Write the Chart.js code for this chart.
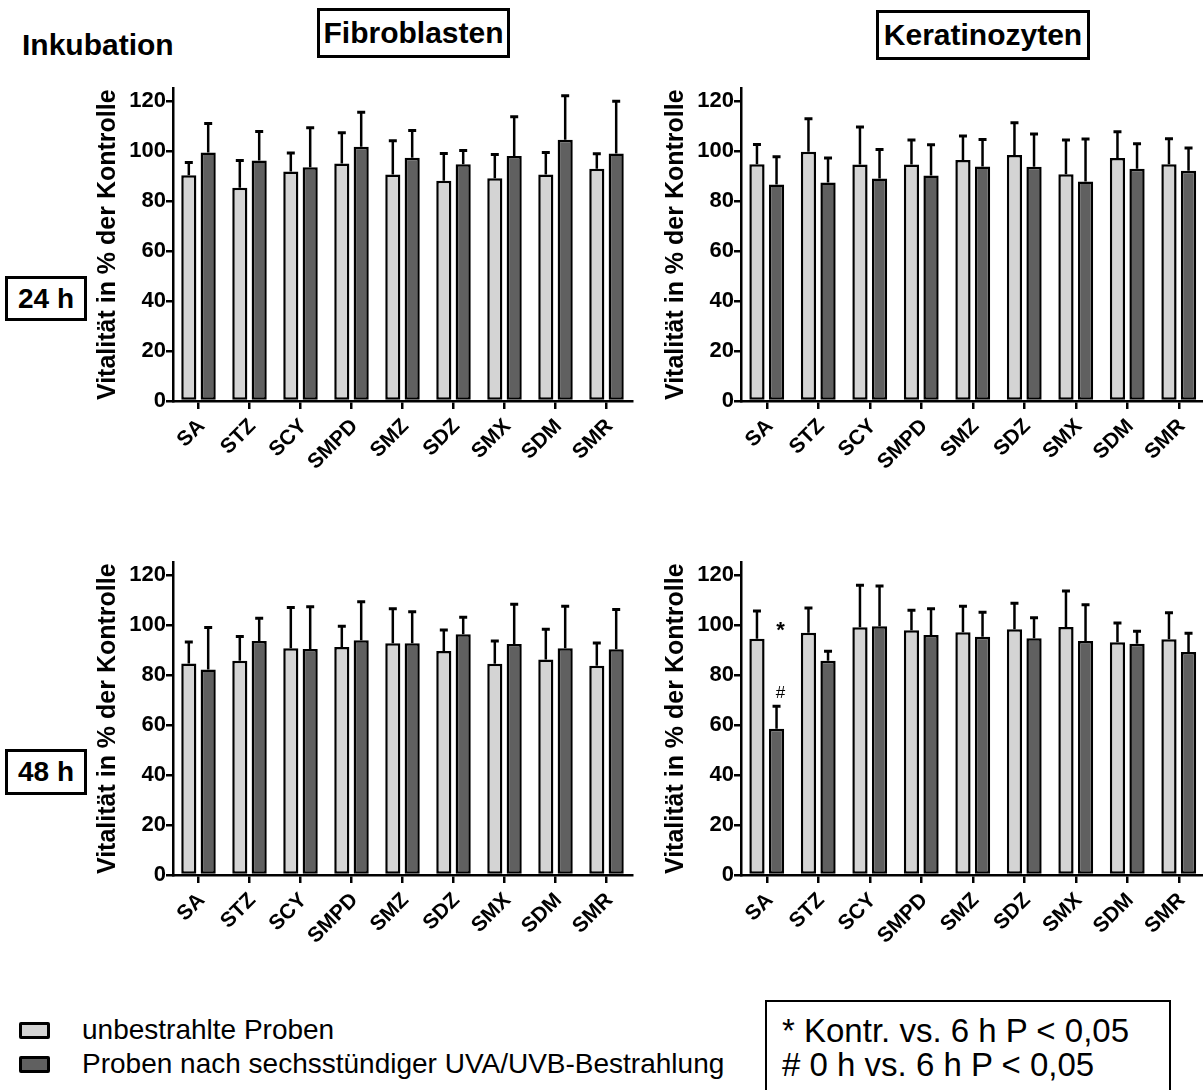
<!DOCTYPE html>
<html>
<head>
<meta charset="utf-8">
<script src="https://cdn.jsdelivr.net/npm/chart.js@4.4.0/dist/chart.umd.min.js"></script>
<style>
  body { margin: 0; background: #fff; font-family: "Liberation Sans", Arial, sans-serif; }
  #page { position: relative; width: 1203px; height: 1090px; overflow: hidden; background: #fff; }
  canvas.cv { position: absolute; }
  .lbl { position: absolute; font-weight: bold; color: #000; white-space: nowrap; }
  .box { position: absolute; border: 3px solid #000; box-sizing: border-box; font-weight: bold;
         display: flex; align-items: center; justify-content: center; white-space: nowrap; }
  .sq { position: absolute; width: 31px; height: 17px; border: 3px solid #000; box-sizing: border-box; border-radius: 2px; }
  .leg { position: absolute; font-size: 28px; white-space: nowrap; line-height: 1; }
  .sig { position: absolute; border: 2px solid #000; box-sizing: border-box; font-size: 33px; line-height: 34px; padding: 12px 0 0 15px; white-space: nowrap; }
</style>
</head>
<body>
<div id="page">
  <div class="lbl" style="left:22px;top:28px;font-size:30px;">Inkubation</div>
  <div class="box" style="left:317px;top:8px;width:193px;height:50px;font-size:30px;">Fibroblasten</div>
  <div class="box" style="left:876px;top:10px;width:214px;height:50px;font-size:30px;">Keratinozyten</div>
  <div class="box" style="left:5px;top:276px;width:82px;height:45px;font-size:28px;">24 h</div>
  <div class="box" style="left:5px;top:749px;width:82px;height:46px;font-size:28px;">48 h</div>

  <canvas class="cv" id="f24" width="640" height="440" style="left:0;top:60px;"></canvas>
  <canvas class="cv" id="k24" width="640" height="440" style="left:568px;top:60px;"></canvas>
  <canvas class="cv" id="f48" width="640" height="440" style="left:0;top:533.5px;"></canvas>
  <canvas class="cv" id="k48" width="640" height="440" style="left:568px;top:533.5px;"></canvas>

  <div class="sq" style="left:19px;top:1022px;background:#d4d4d4;"></div>
  <div class="leg" id="leg0" style="left:82px;top:1016px;"></div>
  <div class="sq" style="left:19px;top:1056px;background:#606060;"></div>
  <div class="leg" id="leg1" style="left:82px;top:1050px;"></div>
  <div class="sig" style="left:765px;top:1000px;width:406px;height:110px;">
    * Kontr. vs. 6 h P &lt; 0,05<br># 0 h vs. 6 h P &lt; 0,05
  </div>
</div>

<script>
const categories = ["SA", "STZ", "SCY", "SMPD", "SMZ", "SDZ", "SMX", "SDM", "SMR"];
const seriesNames = ["unbestrahlte Proben", "Proben nach sechsstündiger UVA/UVB-Bestrahlung"];
const yTicks = [0, 20, 40, 60, 80, 100, 120];
const yTitle = "Vitalität in % der Kontrolle";

// Fibroblasten, 24 h
const fibro24Light = [90.3, 85.3, 91.8, 95.0, 90.6, 88.1, 89.1, 90.6, 92.9];
const fibro24LightSd = [5.1, 10.9, 7.4, 12.3, 13.5, 10.9, 9.5, 8.8, 6.0];
const fibro24Dark = [99.4, 96.2, 93.5, 101.7, 97.3, 94.7, 98.0, 104.5, 99.0];
const fibro24DarkSd = [11.6, 11.6, 15.8, 13.8, 10.9, 5.5, 15.7, 17.6, 20.9];

// Keratinozyten, 24 h
const kera24Light = [94.7, 99.7, 94.6, 94.6, 96.4, 98.4, 90.7, 97.2, 94.7];
const kera24LightSd = [7.9, 13.2, 15.0, 9.8, 9.6, 12.9, 13.7, 10.5, 10.2];
const kera24Dark = [86.6, 87.4, 89.0, 90.2, 93.8, 93.7, 87.8, 92.9, 92.1];
const kera24DarkSd = [11.1, 9.8, 11.6, 12.3, 10.8, 13.1, 17.0, 10.0, 9.1];

// Fibroblasten, 48 h
const fibro48Light = [84.6, 85.7, 90.7, 91.2, 92.7, 89.6, 84.5, 86.2, 83.7];
const fibro48LightSd = [8.6, 9.7, 16.3, 8.3, 13.8, 8.4, 9.1, 12.1, 9.1];
const fibro48Dark = [82.2, 93.6, 90.4, 93.9, 92.7, 96.3, 92.4, 90.7, 90.3];
const fibro48DarkSd = [16.8, 9.1, 16.9, 15.4, 12.6, 6.8, 15.9, 16.8, 15.9];

// Keratinozyten, 48 h
const kera48Light = [94.5, 96.9, 99.1, 97.9, 97.1, 98.3, 99.2, 93.1, 94.3];
const kera48LightSd = [11.1, 9.9, 16.8, 8.0, 10.4, 10.4, 14.4, 7.7, 10.6];
const kera48Dark = [58.5, 85.7, 99.5, 96.0, 95.3, 94.7, 93.6, 92.5, 89.2];
const kera48DarkSd = [9.0, 3.8, 16.1, 10.5, 9.8, 8.2, 14.5, 5.0, 7.5];

// significance marks in the Keratinozyten 48 h panel
const kera48Marks = [
  { index: 0, dataset: 1, text: "*", value: 97.7, dx: 4, font: "bold 22px 'Liberation Sans'" },
  { index: 0, dataset: 1, text: "#", value: 72.8, dx: 4, font: "17px 'Liberation Sans'" },
];

const FONT = "'Liberation Sans', Arial, sans-serif";
document.getElementById("leg0").textContent = seriesNames[0];
document.getElementById("leg1").textContent = seriesNames[1];

// draws the upper SD whisker on every bar
const errorBars = {
  id: "errorBars",
  afterDatasetsDraw(chart) {
    const ctx = chart.ctx;
    const y = chart.scales.y;
    chart.data.datasets.forEach((ds, i) => {
      chart.getDatasetMeta(i).data.forEach((bar, j) => {
        const top = y.getPixelForValue(ds.data[j]);
        const end = y.getPixelForValue(ds.data[j] + ds.sd[j]);
        ctx.save();
        ctx.strokeStyle = "#000";
        ctx.lineWidth = 2.5;
        ctx.beginPath();
        ctx.moveTo(bar.x, top);
        ctx.lineTo(bar.x, end);
        ctx.stroke();
        ctx.lineWidth = 3;
        ctx.beginPath();
        ctx.moveTo(bar.x - 4, end);
        ctx.lineTo(bar.x + 4, end);
        ctx.stroke();
        ctx.restore();
      });
    });
  },
};

const sigMarks = {
  id: "sigMarks",
  afterDraw(chart, args, opts) {
    if (!opts.items) return;
    const ctx = chart.ctx;
    opts.items.forEach((m) => {
      const bar = chart.getDatasetMeta(m.dataset).data[m.index];
      ctx.save();
      ctx.font = m.font;
      ctx.fillStyle = "#000";
      ctx.textAlign = "center";
      ctx.textBaseline = "middle";
      ctx.fillText(m.text, bar.x + m.dx, chart.scales.y.getPixelForValue(m.value));
      ctx.restore();
    });
  },
};

const makeChart = (id, light, lightSd, dark, darkSd, rightPad, marks) => {
  const ctx = document.getElementById(id).getContext("2d");
  return new Chart(ctx, {
    type: "bar",
    data: {
      labels: categories,
      datasets: [
        { label: seriesNames[0], data: light, sd: lightSd, backgroundColor: "#d4d4d4" },
        { label: seriesNames[1], data: dark, sd: darkSd, backgroundColor: "#606060" },
      ],
    },
    options: {
      responsive: false,
      animation: false,
      layout: { padding: { left: 0, top: 28.5, right: rightPad, bottom: 0 } },
      datasets: {
        bar: {
          borderColor: "#000",
          borderWidth: 2.5,
          borderSkipped: false,
          barPercentage: 0.78,
          categoryPercentage: 0.76,
        },
      },
      plugins: {
        legend: { display: false },
        tooltip: { enabled: false },
        sigMarks: { items: marks },
      },
      scales: {
        x: {
          grid: { drawOnChartArea: false, offset: false, tickLength: 8, color: "#000", lineWidth: 2.5 },
          border: { color: "#000", width: 2.5 },
          ticks: {
            color: "#000",
            font: { family: FONT, size: 21, weight: "bold" },
            minRotation: 45,
            maxRotation: 45,
            padding: 5,
            labelOffset: 3,
          },
          afterFit: (s) => { s.height = 99; },
        },
        y: {
          min: 0,
          max: 125,
          afterBuildTicks: (s) => { s.ticks = yTicks.map((v) => ({ value: v })); },
          grid: { drawOnChartArea: false, tickLength: 7, color: "#000", lineWidth: 2.5 },
          border: { color: "#000", width: 2.5 },
          ticks: { color: "#000", font: { family: FONT, size: 22, weight: "bold" }, padding: 0 },
          title: {
            display: true,
            text: yTitle,
            color: "#000",
            font: { family: FONT, size: 25, weight: "bold" },
            padding: { top: 93, bottom: 0 },
          },
          afterFit: (s) => { s.width = 173; },
        },
      },
    },
    plugins: [errorBars, sigMarks],
  });
};

makeChart("f24", fibro24Light, fibro24LightSd, fibro24Dark, fibro24DarkSd, 8, null);
makeChart("k24", kera24Light, kera24LightSd, kera24Dark, kera24DarkSd, 3.5, null);
makeChart("f48", fibro48Light, fibro48LightSd, fibro48Dark, fibro48DarkSd, 8, null);
makeChart("k48", kera48Light, kera48LightSd, kera48Dark, kera48DarkSd, 3.5, kera48Marks);
</script>
</body>
</html>
